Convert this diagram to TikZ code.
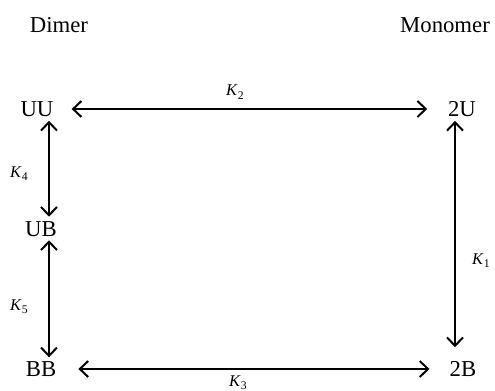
\documentclass[tikz,border=0pt]{standalone}
\usepackage{fontspec}
\setmainfont{Liberation Serif}
\usetikzlibrary{arrows.meta,calc}

\newcommand{\Kc}[1]{\textit{K}\raisebox{-0.5ex}{\fontsize{10}{11}\selectfont #1}}

\begin{document}
\begin{tikzpicture}[x=0.3mm, y=-0.3mm, >={Straight Barb[length=2.5mm,width=4.8mm]},
  species/.style={inner sep=0pt, font=\fontsize{19.4}{23}\selectfont},
  rate/.style={inner sep=0pt, anchor=base west, font=\fontsize{14}{16}\selectfont},
  link/.style={<->, line width=1.7pt}]

\useasboundingbox (0,0) rectangle (495,391);

\def\yTop{109}
\def\yMid{229}
\def\yBot{369}

\coordinate (colL) at (49,0);
\coordinate (colR) at (455,0);

\node[species] (dimer)   at (59,25)  {Dimer};
\node[species] (monomer) at (445,25) {Monomer};

\node[species] (UU) at (37,\yTop) {UU};
\node[species] (UB) at (41,\yMid) {UB};
\node[species] (BB) at (41,\yBot) {BB};
\node[species] (2U) at (462,\yTop) {2U};
\node[species] (2B) at (463,\yBot) {2B};

\node[rate] (k2) at (226,96)  {\Kc{2}};
\node[rate] (k3) at (229,386) {\Kc{3}};
\node[rate] (k4) at (10,177)  {\Kc{4}};
\node[rate] (k5) at (10,310)  {\Kc{5}};
\node[rate] (k1) at (472,264) {\Kc{1}};

\draw[link, shorten <=5.4mm, shorten >=6.2mm] (UU.east) -- (2U.west);
\draw[link, shorten <=6.6mm, shorten >=6mm] (BB.east) -- (2B.west);

\draw[link, shorten <=1.2mm, shorten >=1.35mm] (UU.south -| colL) -- (UB.north -| colL);
\draw[link, shorten <=1.05mm, shorten >=1.2mm] (UB.south -| colL) -- (BB.north -| colL);
\draw[link, shorten <=1.2mm, shorten >=4.2mm] (2U.south -| colR) -- (2B.north -| colR);

\end{tikzpicture}
\end{document}
